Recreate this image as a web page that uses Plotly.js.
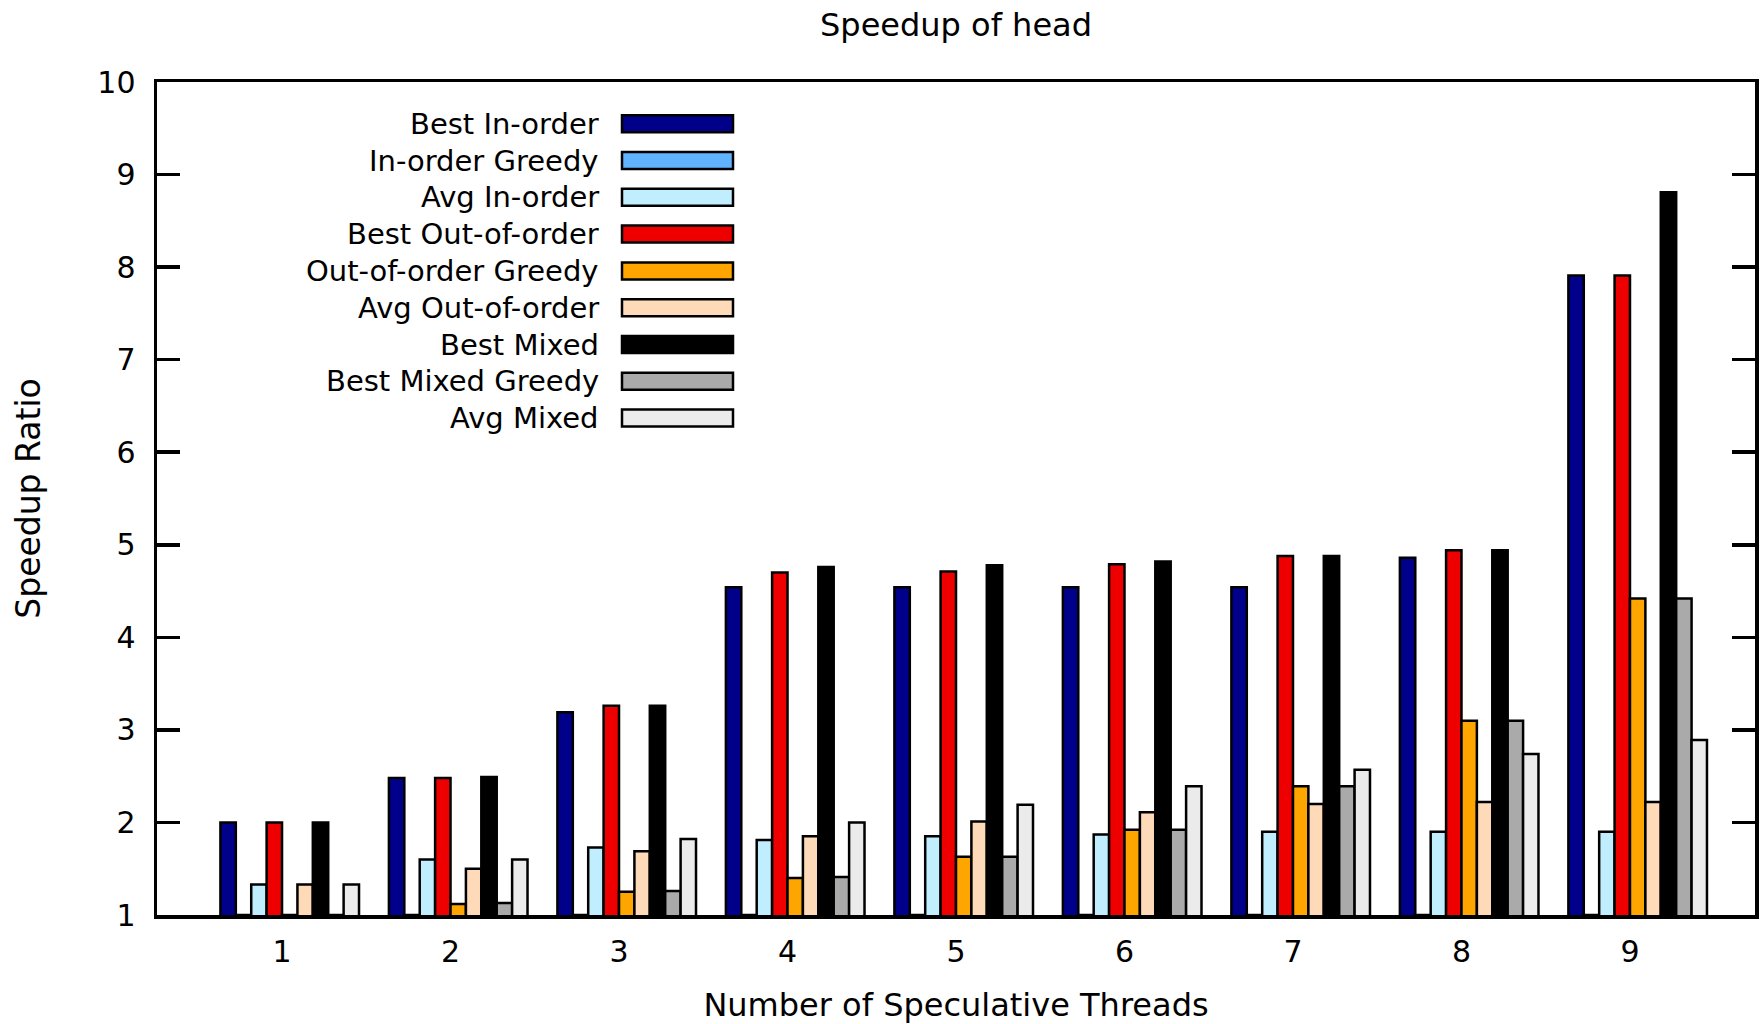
<!DOCTYPE html>
<html>
<head>
<meta charset="utf-8">
<script src="https://cdn.plot.ly/plotly-3.0.1.min.js"></script>
<style>html,body{margin:0;padding:0;background:#fff;}#chart{width:1763px;height:1024px;}</style>
</head>
<body>
<div id="chart"></div>
<script>
// ---- data ----
const categories = ['1', '2', '3', '4', '5', '6', '7', '8', '9'];
const seriesNames = ['Best In-order', 'In-order Greedy', 'Avg In-order',
  'Best Out-of-order', 'Out-of-order Greedy', 'Avg Out-of-order',
  'Best Mixed', 'Best Mixed Greedy', 'Avg Mixed'];
const bestInOrder     = [2.00, 2.48, 3.19, 4.54, 4.54, 4.54, 4.54, 4.86, 7.91];
const inOrderGreedy   = [1.00, 1.00, 1.00, 1.00, 1.00, 1.00, 1.00, 1.00, 1.00];
const avgInOrder      = [1.33, 1.60, 1.73, 1.81, 1.85, 1.87, 1.90, 1.90, 1.90];
const bestOutOfOrder  = [2.00, 2.48, 3.26, 4.70, 4.71, 4.79, 4.88, 4.94, 7.91];
const outOfOrderGreedy= [1.00, 1.12, 1.25, 1.40, 1.63, 1.92, 2.39, 3.10, 4.42];
const avgOutOfOrder   = [1.33, 1.50, 1.69, 1.85, 2.01, 2.11, 2.20, 2.22, 2.22];
const bestMixed       = [2.00, 2.49, 3.26, 4.76, 4.78, 4.82, 4.88, 4.94, 8.81];
const bestMixedGreedy = [1.00, 1.13, 1.26, 1.41, 1.63, 1.92, 2.39, 3.10, 4.42];
const avgMixed        = [1.33, 1.60, 1.82, 2.00, 2.19, 2.39, 2.57, 2.74, 2.89];
const yTickVals = [1, 2, 3, 4, 5, 6, 7, 8, 9, 10];

// ---- styles ----
const seriesValues = [bestInOrder, inOrderGreedy, avgInOrder, bestOutOfOrder,
  outOfOrderGreedy, avgOutOfOrder, bestMixed, bestMixedGreedy, avgMixed];
const colors = ['#00008b', '#60b4ff', '#c0eeff', '#ee0000', '#ffa500',
  '#ffdab9', '#000000', '#aaaaaa', '#ebebeb'];
const FONT = 'DejaVu Sans, Liberation Sans, Arial, sans-serif';

// bar slot width (category units); the cluster sits half a slot right of the tick, as in the original
const slot = 0.0914;

const traces = seriesNames.map((name, i) => ({
  type: 'bar',
  name: name,
  x: categories,
  y: seriesValues[i],
  width: slot,
  offset: (i - 4) * slot,
  marker: {color: colors[i], line: {color: '#000000', width: 2.5}},
  showlegend: false,
  hoverinfo: 'x+y+name'
}));

// plot-area pixel geometry (for the hand-built legend)
const W = 1763, H = 1024;
const M = {l: 157, r: 8, t: 82, b: 109};
const plotW = W - M.l - M.r, plotH = H - M.t - M.b;
const px = v => (v - M.l) / plotW;
const py = v => (H - M.b - v) / plotH;

const legendTop = 123.7, legendStep = 36.8;
const annotations = [];
const shapes = [];
seriesNames.forEach((name, i) => {
  const cy = legendTop + i * legendStep;
  annotations.push({
    xref: 'paper', yref: 'paper', x: px(601), y: py(cy),
    xanchor: 'right', yanchor: 'middle', showarrow: false,
    text: name, font: {family: FONT, size: 29, color: '#000'}
  });
  shapes.push({
    type: 'rect', xref: 'paper', yref: 'paper',
    x0: px(622), x1: px(733), y0: py(cy - 8.5), y1: py(cy + 8.5),
    fillcolor: colors[i], line: {color: '#000', width: 2.5}
  });
});

const layout = {
  width: W, height: H,
  margin: M,
  paper_bgcolor: '#fff', plot_bgcolor: '#fff',
  barmode: 'overlay',
  showlegend: false,
  font: {family: FONT, color: '#000'},
  title: {text: 'Speedup of head', font: {family: FONT, size: 32, color: '#000'},
    x: 0.5, xref: 'paper', y: 1 - 25 / H, yref: 'container', yanchor: 'middle', xanchor: 'center'},
  xaxis: {
    type: 'category', range: [-0.742, 8.742],
    tickvals: categories, ticktext: categories,
    showline: true, linecolor: '#000', linewidth: 3.5, mirror: true,
    ticks: '', showgrid: false, zeroline: false,
    tickfont: {family: FONT, size: 30, color: '#000'},
    ticklabelstandoff: 7,
    title: {text: 'Number of Speculative Threads', font: {family: FONT, size: 32, color: '#000'}, standoff: 33}
  },
  yaxis: {
    range: [1, 10], tickvals: yTickVals,
    showline: true, linecolor: '#000', linewidth: 3.5, mirror: 'ticks',
    ticks: 'inside', ticklen: 23, tickwidth: 3.5, tickcolor: '#000',
    showgrid: false, zeroline: false,
    tickfont: {family: FONT, size: 30, color: '#000'},
    ticklabelstandoff: 12,
    title: {text: 'Speedup Ratio', font: {family: FONT, size: 33, color: '#000'}, standoff: 48}
  },
  annotations: annotations,
  shapes: shapes
};

Plotly.newPlot('chart', traces, layout, {displayModeBar: false, staticPlot: true});
</script>
</body>
</html>
